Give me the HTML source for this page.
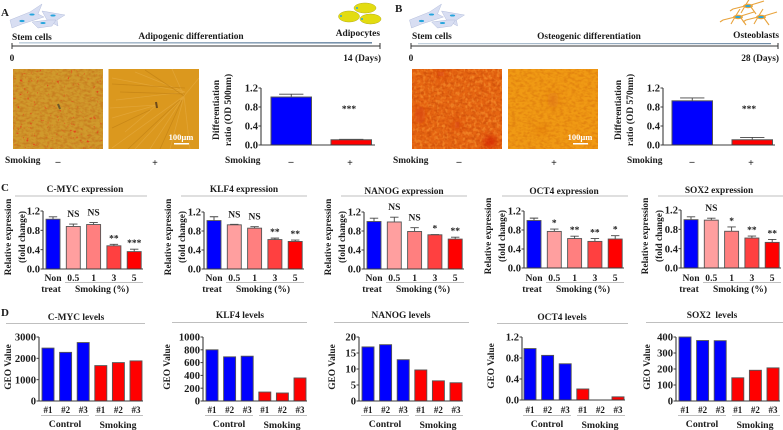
<!DOCTYPE html>
<html lang="en">
<head>
<meta charset="utf-8">
<title>Smoking and stem cell differentiation figure</title>
<style>
html,body{margin:0;padding:0;background:#fff;width:783px;height:430px;overflow:hidden}
svg{display:block;filter:blur(.3px)}
text{font-family:"Liberation Serif",serif;font-weight:bold;fill:#1c1c1c}
</style>
</head>
<body>
<svg id="fig" xmlns="http://www.w3.org/2000/svg" width="783" height="430" viewBox="0 0 783 430">
<defs>
<filter id="redSpeck" x="0" y="0" width="100%" height="100%" color-interpolation-filters="sRGB">
<feTurbulence type="fractalNoise" baseFrequency="0.3" numOctaves="2" seed="7"/>
<feColorMatrix type="matrix" values="0 0 0 0 0.9  0 0 0 0 0.25  0 0 0 0 0.1  6 0 0 0 -4"/>
</filter>
<filter id="grain" x="0" y="0" width="100%" height="100%" color-interpolation-filters="sRGB">
<feTurbulence type="fractalNoise" baseFrequency="0.25 0.4" numOctaves="2" seed="3"/>
<feColorMatrix type="matrix" values="0 0 0 0 0.7  0 0 0 0 0.2  0 0 0 0 0  3 0 0 0 -1.2"/>
</filter>
<filter id="grainLight" x="0" y="0" width="100%" height="100%" color-interpolation-filters="sRGB">
<feTurbulence type="fractalNoise" baseFrequency="0.35 0.25" numOctaves="2" seed="11"/>
<feColorMatrix type="matrix" values="0 0 0 0 0.98  0 0 0 0 0.6  0 0 0 0 0.2  4 0 0 0 -1.9"/>
</filter>
<filter id="soft" x="-150%" y="-150%" width="400%" height="400%"><feGaussianBlur stdDeviation="4"/></filter>
<clipPath id="clipB1"><rect x="412" y="69" width="90" height="80"/></clipPath>
<clipPath id="clipB2"><rect x="508" y="69" width="90" height="80"/></clipPath>
<clipPath id="clipA2"><rect x="108.500" y="69" width="90.500" height="80"/></clipPath>
<linearGradient id="arrowGrad"><stop offset="0" stop-color="#c4d2de"/><stop offset="1" stop-color="#6f8ba6"/></linearGradient>
<g id="stemCells">
<polygon points="10,20 30,12 42,4 38,14 44,17 22,24 12,28" fill="#d8def2" stroke="#b4bedc" stroke-width=".5"/>
<polygon points="42,11 65,15 57,20 58,26 47,20" fill="#d8def2" stroke="#b4bedc" stroke-width=".5"/>
<polygon points="32,22 48,20 56,20 52,26 38,28" fill="#d8def2" stroke="#b4bedc" stroke-width=".5"/>
<ellipse cx="22" cy="21" rx="2.6" ry="1.1" fill="#25a5dc"/>
<ellipse cx="32" cy="14.500" rx="2.6" ry="1" fill="#25a5dc"/>
<ellipse cx="53" cy="15.500" rx="2.6" ry="1" fill="#25a5dc"/>
<ellipse cx="43" cy="23" rx="2.6" ry="1" fill="#25a5dc"/>
</g>
<g id="osteoCell">
<path d="M-15,3L-3,0L2,-8M-3,0L-7,7M3,-1L16,-5M3,1L8,8M-15,3L-18,5" stroke="#e8a33c" stroke-width="1.1" fill="none"/>
<ellipse cx="0" cy="0" rx="5" ry="2.2" fill="#eaa53c"/>
<ellipse cx="0" cy="0" rx="3" ry="1" fill="#25a5dc"/>
</g>
</defs>

<!-- Panel A -->
<text x="1" y="16" font-size="11">A</text>
<use href="#stemCells"/>
<g>
<ellipse cx="349" cy="16.500" rx="10.500" ry="5.500" fill="#e3dc10" stroke="#b5ae20" stroke-width=".5"/>
<ellipse cx="370.500" cy="19" rx="10.500" ry="5" fill="#e3dc10" stroke="#b5ae20" stroke-width=".5"/>
<ellipse cx="365" cy="8" rx="11" ry="5" fill="#e3dc10" stroke="#b5ae20" stroke-width=".5"/>
<circle cx="341" cy="16" r="1" fill="#25a5dc"/><circle cx="357" cy="8" r="1" fill="#25a5dc"/><circle cx="362" cy="19" r="1" fill="#25a5dc"/>
</g>
<text x="12" y="40" font-size="9.400">Stem cells</text>
<text x="191" y="39" font-size="9.400" text-anchor="middle">Adipogenic differentiation</text>
<text x="380" y="36" font-size="9.400" text-anchor="end">Adipocytes</text>
<g>
<rect x="19" y="42" width="353" height="1.600" fill="url(#arrowGrad)"/>
<path d="M12,46H380M12,43V49M380,43V49" stroke="#333" stroke-width="1" fill="none"/>
</g>
<text x="12" y="61" font-size="9.400" text-anchor="middle">0</text>
<text x="381" y="61" font-size="9.400" text-anchor="end">14 (Days)</text>

<g>
<rect x="13" y="69" width="90" height="80" fill="#d09a2c"/>
<rect x="13" y="69" width="90" height="80" filter="url(#grain)" opacity=".25"/>
<rect x="13" y="69" width="90" height="80" filter="url(#redSpeck)"/>
<path d="M58,104l2,5" stroke="#6d5a2a" stroke-width="2"/>
</g>
<g clip-path="url(#clipA2)">
<rect x="108.500" y="69" width="90.500" height="80" fill="#db981e"/>
<path d="M185,92L112,78M185,92L116,100M185,92L135,72M157,105L112,118M157,105L125,132M184,96L170,149M184,96L150,149M184,96L190,149M184,96L199,78M184,96L172,69M184,96L112,148M184,96L135,149M157,105L110,108" stroke="#e8ae48" stroke-width=".8" fill="none" opacity=".55"/>
<path d="M185,88L112,84M150,110L112,128M180,100L128,149M182,100L160,149M185,94L120,92M184,96L145,70" stroke="#b97a12" stroke-width=".8" fill="none" opacity=".55"/>
<path d="M156,102l1,6" stroke="#6d4a1a" stroke-width="2"/>
</g>
<text x="181" y="140" font-size="8.500" style="fill:#fff" text-anchor="middle">100µm</text>
<rect x="174" y="143" width="15" height="1.500" fill="#fff"/>

<!-- Panel B -->
<text x="395" y="12" font-size="11">B</text>
<use href="#stemCells" transform="translate(399.500,0)"/>
<g>
<use href="#osteoCell" transform="translate(738,17)"/><use href="#osteoCell" transform="translate(748,6)"/><use href="#osteoCell" transform="translate(761,17)"/>
</g>
<text x="412" y="39" font-size="9.400">Stem cells</text>
<text x="589" y="39" font-size="9.400" text-anchor="middle">Osteogenic differentiation</text>
<text x="779" y="38" font-size="9.400" text-anchor="end">Osteoblasts</text>
<g>
<rect x="418" y="43" width="353" height="1.200" fill="url(#arrowGrad)"/>
<path d="M411,46H778M411,43V49M778,43V49" stroke="#333" stroke-width="1" fill="none"/>
</g>
<text x="411" y="61" font-size="9.400" text-anchor="middle">0</text>
<text x="779" y="61" font-size="9.400" text-anchor="end">28 (Days)</text>

<g clip-path="url(#clipB1)">
<rect x="412" y="69" width="90" height="80" fill="#e66612"/>
<rect x="412" y="69" width="90" height="80" filter="url(#grain)" opacity=".35"/>
<rect x="412" y="69" width="90" height="80" filter="url(#grainLight)" opacity=".55"/>
<ellipse cx="457" cy="125" rx="4" ry="5" fill="#d83c0a" filter="url(#soft)"/>
<ellipse cx="490" cy="142" rx="6" ry="6" fill="#d42406" filter="url(#soft)"/>
<ellipse cx="441" cy="74" rx="5" ry="4" fill="#d83c0a" filter="url(#soft)"/>
<ellipse cx="420" cy="115" rx="5" ry="10" fill="#dc4a10" filter="url(#soft)"/>
</g>
<g clip-path="url(#clipB2)">
<rect x="508" y="69" width="90" height="80" fill="#f09a14"/>
<rect x="508" y="69" width="90" height="80" filter="url(#grain)" opacity=".2"/>
<ellipse cx="553" cy="100" rx="3" ry="8" fill="#dc6a14" filter="url(#soft)"/>
<ellipse cx="541" cy="130" rx="4" ry="3" fill="#dc6a14" filter="url(#soft)"/>
</g>
<text x="580" y="140" font-size="8.500" style="fill:#fff" text-anchor="middle">100µm</text>
<rect x="573" y="143" width="15" height="1.500" fill="#fff"/>

<g>
<text x="5" y="163" font-size="9.400">Smoking</text>
<text x="58" y="165" font-size="10" text-anchor="middle">–</text>
<text x="155" y="166" font-size="10" text-anchor="middle">+</text>
<text x="225" y="163" font-size="9.400">Smoking</text>
<text x="291" y="165" font-size="10" text-anchor="middle">–</text>
<text x="350" y="166" font-size="10" text-anchor="middle">+</text>
<text x="393" y="163" font-size="9.400">Smoking</text>
<text x="459" y="165" font-size="10" text-anchor="middle">–</text>
<text x="554" y="166" font-size="10" text-anchor="middle">+</text>
<text x="627" y="163" font-size="9.400">Smoking</text>
<text x="692" y="165" font-size="10" text-anchor="middle">–</text>
<text x="751" y="166" font-size="10" text-anchor="middle">+</text>
</g>

<text x="1" y="191" font-size="11">C</text>
<text x="1" y="316" font-size="11">D</text>
</svg>

<script>
// ---- Data: panels A / B differentiation ----
var diffTicks = ["0.0", "0.4", "0.8", "1.2"];
var diffTickValues = [0, 0.4, 0.8, 1.2];
var adipoValues = [1.01, 0.11];
var adipoErrors = [0.06, 0.01];
var osteoValues = [0.93, 0.11];
var osteoErrors = [0.06, 0.05];

// ---- Data: panel C expression ----
var exprTicks = ["0.0", "0.4", "0.8", "1.2"];
var exprTickValues = [0, 0.4, 0.8, 1.2];
var exprCategories = ["Non", "0.5", "1", "3", "5"];
var cmycExpr = [1.03, 0.88, 0.92, 0.48, 0.36];
var cmycExprErr = [0.05, 0.05, 0.04, 0.03, 0.05];
var cmycExprSig = ["", "NS", "NS", "**", "***"];
var klf4Expr = [1.02, 0.93, 0.86, 0.62, 0.58];
var klf4ExprErr = [0.08, 0.01, 0.03, 0.03, 0.03];
var klf4ExprSig = ["", "NS", "NS", "**", "**"];
var nanogExpr = [1.0, 0.99, 0.79, 0.72, 0.63];
var nanogExprErr = [0.07, 0.1, 0.08, 0.005, 0.04];
var nanogExprSig = ["", "NS", "NS", "*", "**"];
var oct4Expr = [1.0, 0.77, 0.62, 0.56, 0.61];
var oct4ExprErr = [0.05, 0.05, 0.05, 0.06, 0.07];
var oct4ExprSig = ["", "*", "**", "**", "*"];
var sox2Expr = [1.0, 0.99, 0.76, 0.62, 0.53];
var sox2ExprErr = [0.06, 0.04, 0.09, 0.04, 0.06];
var sox2ExprSig = ["", "NS", "*", "**", "**"];

// ---- Data: panel D GEO levels ----
var geoCategories = ["#1", "#2", "#3", "#1", "#2", "#3"];
var cmycGeo = [2480, 2280, 2740, 1660, 1800, 1880];
var cmycGeoTicks = ["0", "1000", "2000", "3000"];
var cmycGeoTickValues = [0, 1000, 2000, 3000];
var klf4Geo = [800, 690, 700, 140, 125, 360];
var klf4GeoTicks = ["0", "200", "400", "600", "800", "1000"];
var klf4GeoTickValues = [0, 200, 400, 600, 800, 1000];
var nanogGeo = [16.9, 17.6, 12.9, 9.7, 6.3, 5.7];
var nanogGeoTicks = ["0", "5", "10", "15", "20"];
var nanogGeoTickValues = [0, 5, 10, 15, 20];
var oct4Geo = [0.98, 0.85, 0.69, 0.21, 0, 0.06];
var oct4GeoTicks = ["0.0", "0.4", "0.8", "1.2"];
var oct4GeoTickValues = [0, 0.4, 0.8, 1.2];
var sox2Geo = [400, 378, 377, 145, 192, 207];
var sox2GeoTicks = ["0", "100", "200", "300", "400"];
var sox2GeoTickValues = [0, 100, 200, 300, 400];

var svg = document.getElementById('fig');
var NS = 'http://www.w3.org/2000/svg';
var AXIS = '#3c3c3c';
var OUTLINE = '#555';
var TICK_FS = 10.6;
var exprColors = ['#0000ff', '#ff9f9f', '#ff7f7f', '#ff4040', '#ff0000'];
var geoColors = ['#0000ff', '#0000ff', '#0000ff', '#ff0000', '#ff0000', '#ff0000'];

function add(parent, tag, attrs, name) {
  var el = document.createElementNS(NS, tag);
  for (var k in attrs) el.setAttribute(k, attrs[k]);
  
  
  parent.appendChild(el);
  return el;
}
function label(parent, x, y, str, size, anchor, name, rot) {
  var attrs = { x: x, y: y, 'font-size': size, 'text-anchor': anchor || 'middle' };
  if (rot) attrs.transform = 'rotate(-90 ' + x + ' ' + y + ')';
  var t = add(parent, 'text', attrs, name);
  t.textContent = str;
  return t;
}
function yScale(y0, y1, max) {
  return function (v) { return y0 - (v / max) * (y0 - y1); };
}
function axes(g, c, ticks, tickValues, y, fs) {
  add(g, 'line', { x1: c.axisX, x2: c.axisX, y1: y(tickValues[tickValues.length - 1]), y2: c.y0, stroke: AXIS, 'stroke-width': 1.1 }, 'y-axis');
  add(g, 'line', { x1: c.axisX - 2, x2: c.axisEnd, y1: c.y0, y2: c.y0, stroke: AXIS, 'stroke-width': 1.1 }, 'x-axis');
  ticks.forEach(function (t, i) {
    var ty = y(tickValues[i]);
    add(g, 'line', { x1: c.axisX - 2.5, x2: c.axisX, y1: ty, y2: ty, stroke: AXIS, 'stroke-width': 1 }, 'y-tick');
    label(g, c.axisX - 3, ty + 3.6, t, fs, 'end', 'y-tick-label');
  });
}
function bars(g, c, values, errors, colors, y, sw) {
  values.forEach(function (v, i) {
    var x = c.barX + i * c.step;
    var top = y(v);
    if (errors) {
      var e = y(v + errors[i]);
      var cx = x + c.barW / 2;
      add(g, 'path', { d: 'M' + cx + ',' + top + 'V' + e + 'M' + (cx - c.barW * 0.3) + ',' + e + 'H' + (cx + c.barW * 0.3), stroke: '#444', 'stroke-width': 0.9, fill: 'none' }, 'error-bar');
    }
    if (v > 0) add(g, 'rect', { x: x, y: top, width: c.barW, height: c.y0 - top, fill: colors[i], stroke: OUTLINE, 'stroke-width': sw }, 'bar');
  });
}

// Panels A and B small charts
var diffCharts = [
  { key: 'adipo', vals: adipoValues, errs: adipoErrors, axisX: 261, axisEnd: 375, y0: 145, y1: 88, barX: 271, barW: 40.5, step: 60, lab1: 216, lab2: 228, labY: 110, title2: 'ratio (OD 500nm)', star: 349 },
  { key: 'osteo', vals: osteoValues, errs: osteoErrors, axisX: 663, axisEnd: 775, y0: 145, y1: 88, barX: 672, barW: 40.5, step: 60, lab1: 618, lab2: 630, labY: 110, title2: 'ratio (OD 570nm)', star: 749 }
];
diffCharts.forEach(function (c) {
  var g = add(svg, 'g', {}, c.key + '-differentiation-chart');
  var y = yScale(c.y0, c.y1, 1.2);
  label(g, c.lab1 + 3, c.labY, 'Differentiation', 9.5, 'middle', 'y-axis-title', true);
  label(g, c.lab2 + 3, c.labY, c.title2, 9.5, 'middle', 'y-axis-title', true);
  bars(g, c, c.vals, c.errs, ['#0000ff', '#ff0000'], y, 1);
  axes(g, c, diffTicks, diffTickValues, y, TICK_FS);
  label(g, c.star, 112, '***', 9.5, 'middle', 'significance-marker');
});

// Panel C
var exprCharts = [
  { key: 'c-myc', title: 'C-MYC expression', vals: cmycExpr, errs: cmycExprErr, sig: cmycExprSig, tx: 85, ty: 192, rx1: 15, rx2: 147, ry: 196, axisX: 43, y0: 269, y1: 211, barX: 46, lab: 8 },
  { key: 'klf4', title: 'KLF4 expression', vals: klf4Expr, errs: klf4ExprErr, sig: klf4ExprSig, tx: 244, ty: 192, rx1: 181, rx2: 307, ry: 196, axisX: 204, y0: 269, y1: 212, barX: 207, lab: 168 },
  { key: 'nanog', title: 'NANOG expression', vals: nanogExpr, errs: nanogExprErr, sig: nanogExprSig, tx: 404, ty: 194, rx1: 341, rx2: 467, ry: 196, axisX: 364, y0: 269, y1: 212, barX: 367, lab: 328 },
  { key: 'oct4', title: 'OCT4 expression', vals: oct4Expr, errs: oct4ExprErr, sig: oct4ExprSig, tx: 564, ty: 194, rx1: 502, rx2: 628, ry: 196, axisX: 524, y0: 268, y1: 211, barX: 527, lab: 488 },
  { key: 'sox2', title: 'SOX2 expression', vals: sox2Expr, errs: sox2ExprErr, sig: sox2ExprSig, tx: 719, ty: 193, rx1: 658, rx2: 783, ry: 196, axisX: 681, y0: 268, y1: 210, barX: 684, lab: 645 }
];
exprCharts.forEach(function (c) {
  var g = add(svg, 'g', {}, c.key + '-expression-chart');
  c.barW = 14; c.step = 20.3; c.axisEnd = c.barX + 97;
  var y = yScale(c.y0, c.y1, 1.2);
  label(g, c.tx, c.ty, c.title, 9.4, 'middle', 'chart-title');
  add(g, 'line', { x1: c.rx1, x2: c.rx2, y1: c.ry, y2: c.ry, stroke: '#aaa', 'stroke-width': 0.8 }, 'title-rule');
  label(g, c.lab + 3, c.y0 - 32, 'Relative expression', 9.3, 'middle', 'y-axis-title', true);
  label(g, c.lab + 17, c.y0 - 32, '(fold change)', 9.3, 'middle', 'y-axis-title', true);
  bars(g, c, c.vals, c.errs, exprColors, y, 0.9);
  axes(g, c, exprTicks, exprTickValues, y, TICK_FS);
  c.vals.forEach(function (v, i) {
    var cx = c.barX + i * c.step + c.barW / 2;
    label(g, cx, 281, exprCategories[i], 9.6, 'middle', 'x-tick-label');
    if (c.sig[i]) label(g, cx, y(v + c.errs[i]) - (c.sig[i] === 'NS' ? 7 : 3), c.sig[i], 9.5, 'middle', 'significance-marker');
  });
  label(g, c.barX + 5, 292, 'treat', 9.6, 'middle', 'x-tick-label');
  add(g, 'line', { x1: c.barX + 19, x2: c.barX + 97, y1: 282.5, y2: 282.5, stroke: '#aaa', 'stroke-width': 0.8 }, 'smoking-rule');
  label(g, c.barX + 56, 292, 'Smoking (%)', 9.5, 'middle', 'x-group-label');
});

// Panel D
var geoCharts = [
  { key: 'c-myc', title: 'C-MYC levels', vals: cmycGeo, ticks: cmycGeoTicks, tv: cmycGeoTickValues, tx: 76, ty: 320, rx1: 6, rx2: 145, ry: 323.5, axisX: 39, y0: 401, y1: 337, barX: 42, lab: 8 },
  { key: 'klf4', title: 'KLF4 levels', vals: klf4Geo, ticks: klf4GeoTicks, tv: klf4GeoTickValues, tx: 240, ty: 318, rx1: 172, rx2: 307, ry: 322.5, axisX: 203, y0: 401, y1: 337, barX: 206, lab: 167 },
  { key: 'nanog', title: 'NANOG levels', vals: nanogGeo, ticks: nanogGeoTicks, tv: nanogGeoTickValues, tx: 401, ty: 318, rx1: 334, rx2: 469, ry: 322.5, axisX: 359, y0: 401, y1: 337, barX: 362, lab: 332 },
  { key: 'oct4', title: 'OCT4 levels', vals: oct4Geo, ticks: oct4GeoTicks, tv: oct4GeoTickValues, tx: 562, ty: 320, rx1: 497, rx2: 628, ry: 323.5, axisX: 522, y0: 400, y1: 337, barX: 524, lab: 491 },
  { key: 'sox2', title: 'SOX2  levels', vals: sox2Geo, ticks: sox2GeoTicks, tv: sox2GeoTickValues, tx: 712, ty: 318, rx1: 646, rx2: 783, ry: 322.5, axisX: 676, y0: 401, y1: 337, barX: 679, lab: 647 }
];
geoCharts.forEach(function (c) {
  var g = add(svg, 'g', {}, c.key + '-geo-chart');
  c.barW = 12; c.step = 17.6; c.axisEnd = c.barX + 101;
  var max = c.tv[c.tv.length - 1];
  var y = yScale(c.y0, c.y1, max);
  var titleEl = label(g, c.tx, c.ty, c.title, 9.4, 'middle', 'chart-title');
  titleEl.style.whiteSpace = 'pre';
  add(g, 'line', { x1: c.rx1, x2: c.rx2, y1: c.ry, y2: c.ry, stroke: '#aaa', 'stroke-width': 0.8 }, 'title-rule');
  label(g, c.lab + 3, c.y0 - 34, 'GEO Value', 9.4, 'middle', 'y-axis-title', true);
  bars(g, c, c.vals, null, geoColors, y, 0.9);
  axes(g, c, c.ticks, c.tv, y, TICK_FS);
  c.vals.forEach(function (v, i) {
    label(g, c.barX + i * c.step + c.barW / 2, 413, geoCategories[i], 9, 'middle', 'x-tick-label');
  });
  add(g, 'line', { x1: c.barX - 1, x2: c.barX + 47, y1: 415.5, y2: 415.5, stroke: '#aaa', 'stroke-width': 0.8 }, 'control-rule');
  add(g, 'line', { x1: c.barX + 53, x2: c.barX + 101, y1: 415.5, y2: 415.5, stroke: '#aaa', 'stroke-width': 0.8 }, 'smoking-rule');
  label(g, c.barX + 23, 427, 'Control', 9.8, 'middle', 'x-group-label');
  label(g, c.barX + 76, 428, 'Smoking', 9.8, 'middle', 'x-group-label');
});
</script>
</body>
</html>
